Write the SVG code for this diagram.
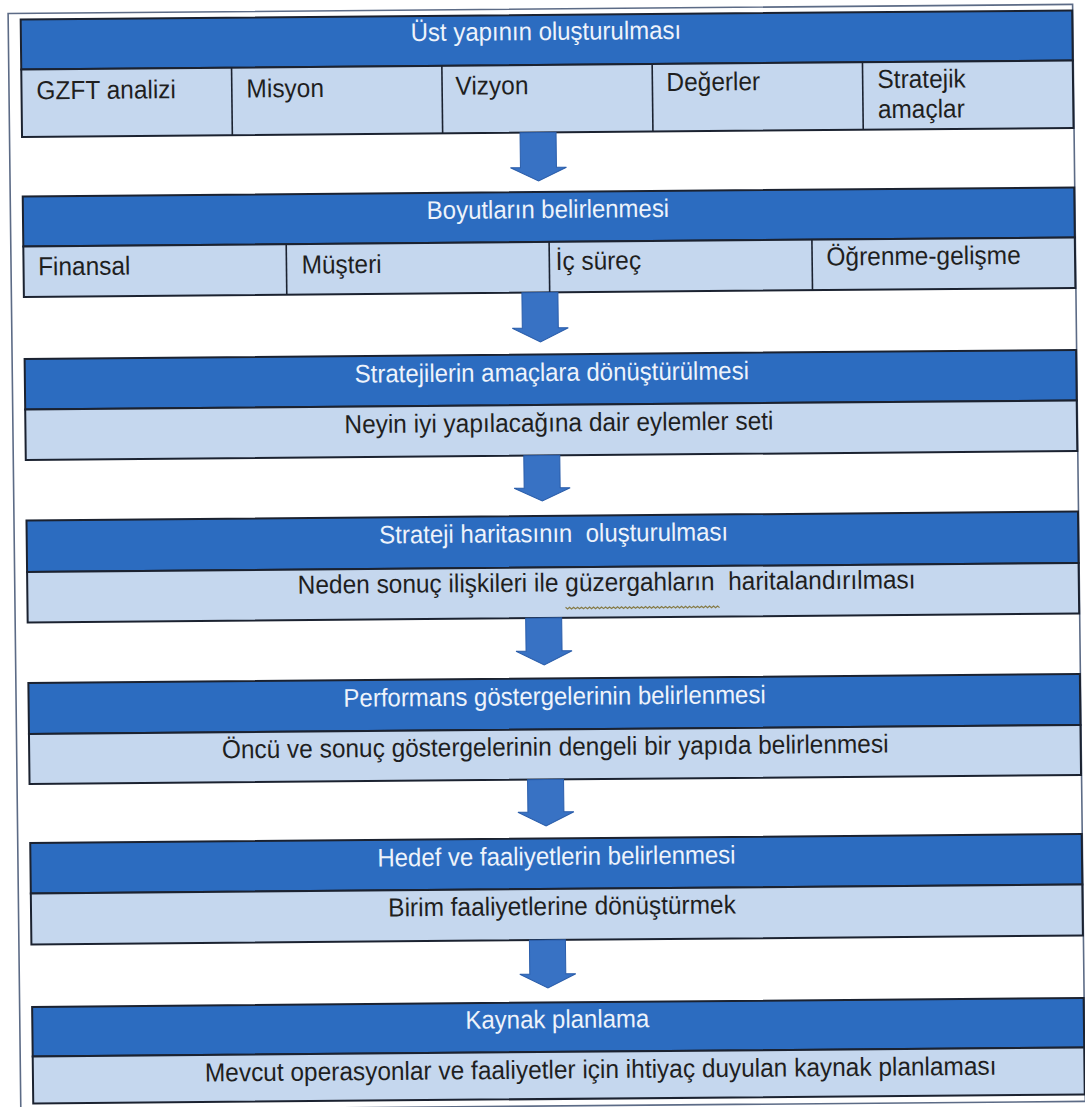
<svg xmlns="http://www.w3.org/2000/svg" width="1085" height="1107" viewBox="0 0 1085 1107">
  <defs>
    <style>
      .frame { fill: none; stroke: #5c6b86; stroke-width: 1.6; }
      .head { fill: #2c6cc0; stroke: #1b2230; stroke-width: 2; }
      .sub { fill: #c5d7ee; stroke: #1b2230; stroke-width: 2; }
      .div { stroke: #1b2230; stroke-width: 1.6; }
      .ht { font-family: "Liberation Sans", Arial, sans-serif; font-size: 25.5px; fill: #eef3fb; text-anchor: middle; white-space: pre; }
      .st { font-family: "Liberation Sans", Arial, sans-serif; font-size: 26px; fill: #1f1f1f; white-space: pre; }
      .mid { text-anchor: middle; }
      .arrow { fill: #3872c4; stroke: #2a5daa; stroke-width: 1; }
      .squiggle { fill: none; stroke: #857a45; stroke-width: 1.2; }
    </style>
  </defs>
  <rect width="1085" height="1107" fill="#ffffff"/>
  <!-- page slightly skewed as on the scanned sheet -->
  <g transform="matrix(1 -0.0086 0.0116 1 -6.5 4.69)">
    <rect class="frame" x="14.5" y="9" width="1064.5" height="1097"/>

    <g id="ust-yapi">
      <rect class="head" x="27" y="15" width="1051.5" height="50"/>
      <rect class="sub" x="27" y="65" width="1051.5" height="67.5"/>
      <line class="div" x1="237.3" y1="65" x2="237.3" y2="132.5"/>
      <line class="div" x1="447.6" y1="65" x2="447.6" y2="132.5"/>
      <line class="div" x1="657.9" y1="65" x2="657.9" y2="132.5"/>
      <line class="div" x1="868.2" y1="65" x2="868.2" y2="132.5"/>
      <text class="ht" transform="translate(552 40) scale(0.94 1)">Üst yapının oluşturulması</text>
      <text class="st" transform="translate(42 95) scale(0.94 1)">GZFT analizi</text>
      <text class="st" transform="translate(252 95) scale(0.94 1)">Misyon</text>
      <text class="st" transform="translate(461 94) scale(0.94 1)">Vizyon</text>
      <text class="st" transform="translate(672 92) scale(0.94 1)">Değerler</text>
      <text class="st" transform="translate(883 91) scale(0.94 1)">Stratejik</text>
      <text class="st" transform="translate(883 121) scale(0.94 1)">amaçlar</text>
    </g>

    <g id="boyutlar">
      <rect class="head" x="27" y="192" width="1051.5" height="50"/>
      <rect class="sub" x="27" y="242" width="1051.5" height="50.5"/>
      <line class="div" x1="289.9" y1="242" x2="289.9" y2="292.5"/>
      <line class="div" x1="552.8" y1="242" x2="552.8" y2="292.5"/>
      <line class="div" x1="815.6" y1="242" x2="815.6" y2="292.5"/>
      <text class="ht" transform="translate(552 218) scale(0.94 1)">Boyutların belirlenmesi</text>
      <text class="st" transform="translate(41.5 271) scale(0.94 1)">Finansal</text>
      <text class="st" transform="translate(305 271.5) scale(0.94 1)">Müşteri</text>
      <text class="st" transform="translate(559 270) scale(0.94 1)">İç süreç</text>
      <text class="st" transform="translate(830 268) scale(0.94 1)">Öğrenme-gelişme</text>
    </g>

    <g id="stratejiler-amaclar">
      <rect class="head" x="27" y="354.5" width="1051.5" height="50.5"/>
      <rect class="sub" x="27" y="405" width="1051.5" height="50.5"/>
      <text class="ht" transform="translate(554 381) scale(0.94 1)">Stratejilerin amaçlara dönüştürülmesi</text>
      <text class="st" transform="translate(346 431.5) scale(0.94 1)">Neyin iyi yapılacağına dair eylemler seti</text>
    </g>

    <g id="strateji-haritasi">
      <rect class="head" x="27" y="516" width="1051.5" height="51.5"/>
      <rect class="sub" x="27" y="567.5" width="1051.5" height="50.5"/>
      <text class="ht" transform="translate(554 542) scale(0.94 1)">Strateji haritasının  oluşturulması</text>
      <text class="st" transform="translate(297.5 591.5) scale(0.94 1)">Neden sonuç ilişkileri ile güzergahların  haritalandırılması</text>
      <path class="squiggle" d="M565,607.5 l2,1.6 l2,-1.6 l2,1.6 l2,-1.6 l2,1.6 l2,-1.6 l2,1.6 l2,-1.6 l2,1.6 l2,-1.6 l2,1.6 l2,-1.6 l2,1.6 l2,-1.6 l2,1.6 l2,-1.6 l2,1.6 l2,-1.6 l2,1.6 l2,-1.6 l2,1.6 l2,-1.6 l2,1.6 l2,-1.6 l2,1.6 l2,-1.6 l2,1.6 l2,-1.6 l2,1.6 l2,-1.6 l2,1.6 l2,-1.6 l2,1.6 l2,-1.6 l2,1.6 l2,-1.6 l2,1.6 l2,-1.6 l2,1.6 l2,-1.6 l2,1.6 l2,-1.6 l2,1.6 l2,-1.6 l2,1.6 l2,-1.6 l2,1.6 l2,-1.6 l2,1.6 l2,-1.6 l2,1.6 l2,-1.6 l2,1.6 l2,-1.6 l2,1.6 l2,-1.6 l2,1.6 l2,-1.6 l2,1.6 l2,-1.6 l2,1.6 l2,-1.6 l2,1.6 l2,-1.6 l2,1.6 l2,-1.6 l2,1.6 l2,-1.6 l2,1.6 l2,-1.6 l2,1.6 l2,-1.6 l2,1.6 l2,-1.6 l2,1.6 l2,-1.6 l2,1.6"/>
    </g>

    <g id="performans">
      <rect class="head" x="27" y="678.5" width="1051.5" height="51"/>
      <rect class="sub" x="27" y="729.5" width="1051.5" height="50"/>
      <text class="ht" transform="translate(553 705) scale(0.94 1)">Performans göstergelerinin belirlenmesi</text>
      <text class="st mid" transform="translate(553 755.5) scale(0.94 1)">Öncü ve sonuç göstergelerinin dengeli bir yapıda belirlenmesi</text>
    </g>

    <g id="hedef-faaliyet">
      <rect class="head" x="27" y="838.5" width="1051.5" height="50.5"/>
      <rect class="sub" x="27" y="889" width="1051.5" height="51"/>
      <text class="ht" transform="translate(553 865) scale(0.94 1)">Hedef ve faaliyetlerin belirlenmesi</text>
      <text class="st mid" transform="translate(558 915) scale(0.94 1)">Birim faaliyetlerine dönüştürmek</text>
    </g>

    <g id="kaynak">
      <rect class="head" x="27" y="1002.5" width="1051.5" height="49.5"/>
      <rect class="sub" x="27" y="1052" width="1051.5" height="47"/>
      <text class="ht" transform="translate(552 1028) scale(0.94 1)">Kaynak planlama</text>
      <text class="st" transform="translate(199 1078.5) scale(0.94 1)">Mevcut operasyonlar ve faaliyetler için ihtiyaç duyulan kaynak planlaması</text>
    </g>

    <g id="connectors">
      <path class="arrow" d="M525,132.5 H561 V167.5 H571 L543,181 L515,167.5 H525 Z"/>
      <path class="arrow" d="M525,292.5 H561 V328 H571 L543,342 L515,328 H525 Z"/>
      <path class="arrow" d="M525,455.5 H561 V488 H571 L543,501 L515,488 H525 Z"/>
      <path class="arrow" d="M525,618 H561 V651 H571 L543,665 L515,651 H525 Z"/>
      <path class="arrow" d="M525,779.5 H561 V812 H571 L543,826 L515,812 H525 Z"/>
      <path class="arrow" d="M525,940 H561 V974 H571 L543,988 L515,974 H525 Z"/>
    </g>
  </g>
</svg>
